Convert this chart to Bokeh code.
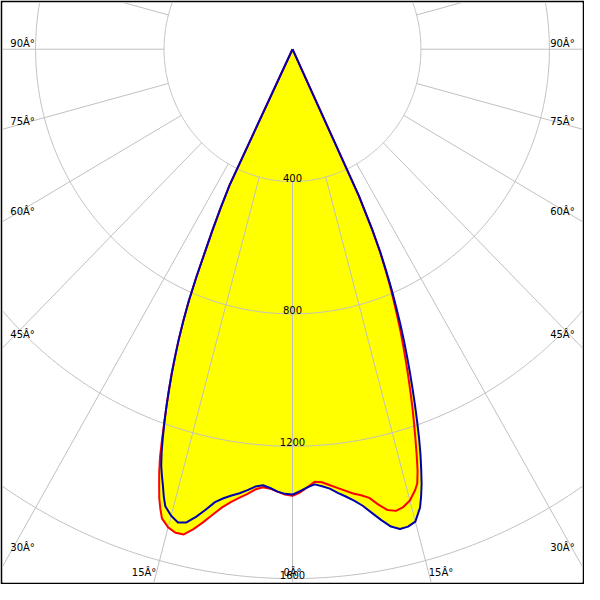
import numpy as np
from bokeh.plotting import figure
from bokeh.models import Range1d
from bokeh.core.properties import value
from bokeh.embed import file_html
from bokeh.resources import INLINE

# ---------------- data (cd), gamma in degrees from nadir ----------------
gamma = [0, 1, 2, 3, 4, 5, 6, 7, 8, 9, 10, 11, 12, 13, 14, 15, 16,
         16.5, 17, 17.5, 18, 18.5, 19, 19.5, 20, 20.5, 21, 21.5, 22, 22.5,
         23, 23.5, 24, 24.5, 25, 25.5, 26]
# red curve: left half (C180) and right half (C0)
red_left = [1350, 1346, 1338, 1330, 1327, 1336, 1352, 1366, 1382, 1402, 1428, 1456,
            1483, 1505, 1506, 1496, 1475,
            1449, 1419, 1381, 1343, 1300, 1248, 1196, 1147, 1098, 1049, 997, 945,
            887, 826, 750, 668, 600, 530, 455, 0]
red_right = [1350, 1340, 1325, 1309, 1312, 1322, 1333, 1344, 1356, 1365, 1377, 1402,
             1424, 1432, 1426, 1412, 1386,
             1368, 1332, 1286, 1239, 1193, 1148, 1101, 1055, 1009, 964, 919, 872,
             825, 778, 725, 670, 595, 488, 0, 0]
# blue curve: left half (C270) and right half (C90)
blue_left = [1346, 1344, 1338, 1328, 1321, 1327, 1340, 1352, 1362, 1374, 1390, 1418,
             1445, 1468, 1474, 1460, 1437,
             1411, 1380, 1352, 1323, 1284, 1240, 1194, 1147, 1098, 1049, 997, 945,
             887, 826, 750, 668, 600, 530, 455, 0]
blue_right = [1346, 1336, 1325, 1317, 1324, 1333, 1348, 1362, 1378, 1397, 1423, 1450,
              1475, 1488, 1487, 1478, 1441,
              1410, 1375, 1333, 1290, 1243, 1193, 1144, 1094, 1045, 996, 947, 897,
              844, 791, 733, 674, 598, 490, 0, 0]

rings = [400, 800, 1200, 1600]
ring_labels = ["400", "800", "1200", "1600"]
spoke_angles = list(range(0, 360, 15))
label_angles = [0, 15, 30, 45, 60, 75, 90]

# ---------------- layout ----------------
PXX, PXY = 0.33, 0.34          # px per cd horizontally / vertically
CX, CY = 300.0, 50.0           # centre in a 600 px picture
x_lo, x_hi = (2 - CX) / PXX, (598 - CX) / PXX
y_hi, y_lo = (CY - 2) / PXY, (CY - 598) / PXY
SIDE_X = (CX - 10) / PXX
BOTTOM_Y = -(588 - CY) / PXY

p = figure(width=584, height=584, output_backend="svg", toolbar_location=None,
           x_range=Range1d(x_lo, x_hi), y_range=Range1d(y_lo, y_hi),
           x_axis_type=None, y_axis_type=None, title=None,
           min_border=2, border_fill_color="black", background_fill_color="white",
           outline_line_color=None)
p.grid.visible = False


def curve(left, right):
    g = np.radians(gamma)
    l = np.array(left, dtype=float)
    r = np.array(right, dtype=float)
    xs = np.concatenate([(-l * np.sin(g))[::-1], r * np.sin(g)])
    ys = np.concatenate([(-l * np.cos(g))[::-1], -r * np.cos(g)])
    return xs, ys


rx, ry = curve(red_left, red_right)
bx, by = curve(blue_left, blue_right)

# yellow fills
p.patch(rx, ry, fill_color="#ffff00", line_color=None)
p.patch(bx, by, fill_color="#ffff00", line_color=None)

# grid
t = np.radians(np.linspace(0, 360, 721))
ring_xs = [list(r * np.sin(t)) for r in rings]
ring_ys = [list(-r * np.cos(t)) for r in rings]
p.multi_line(ring_xs, ring_ys, line_color="#c0c0c0", line_width=1)

spoke_xs, spoke_ys = [], []
for a in spoke_angles:
    ar = np.radians(a)
    spoke_xs.append([rings[0] * np.sin(ar), 5000 * np.sin(ar)])
    spoke_ys.append([-rings[0] * np.cos(ar), -5000 * np.cos(ar)])
p.multi_line(spoke_xs, spoke_ys, line_color="#c0c0c0", line_width=1)

# intensity labels
p.text(x=[0] * len(rings), y=[-r for r in rings], text=ring_labels,
       text_align="center", text_baseline="bottom", text_font=value("DejaVu Sans"),
       text_font_size="10px", text_color="black")

# angle labels
groups = {}
for a in label_angles:
    ar = np.radians(a)
    sides = [0] if a == 0 else [-1, 1]
    for s in sides:
        sa, ca = np.sin(ar), np.cos(ar)
        t_side = SIDE_X / sa if sa > 1e-9 else np.inf
        t_bot = -BOTTOM_Y / ca if ca > 1e-9 else np.inf
        if t_side <= t_bot:
            x, y = s * SIDE_X, -t_side * ca
            key = ("left" if s < 0 else "right", "bottom")
        else:
            x, y = s * t_bot * sa, BOTTOM_Y
            key = ("center" if s == 0 else ("right" if s < 0 else "left"), "middle")
        groups.setdefault(key, ([], [], []))
        groups[key][0].append(x)
        groups[key][1].append(y)
        groups[key][2].append(f"{a}Â°")
for (al, bl), (xs, ys, txt) in groups.items():
    p.text(x=xs, y=ys, text=txt, text_align=al, text_baseline=bl,
           text_font=value("DejaVu Sans"), text_font_size="10px", text_color="black")

# curves
p.line(rx, ry, line_color="#ff0000", line_width=2, line_join="round")
p.line(bx, by, line_color="#0000b0", line_width=2, line_join="round")

open("out.html", "w").write(file_html(p, INLINE))
